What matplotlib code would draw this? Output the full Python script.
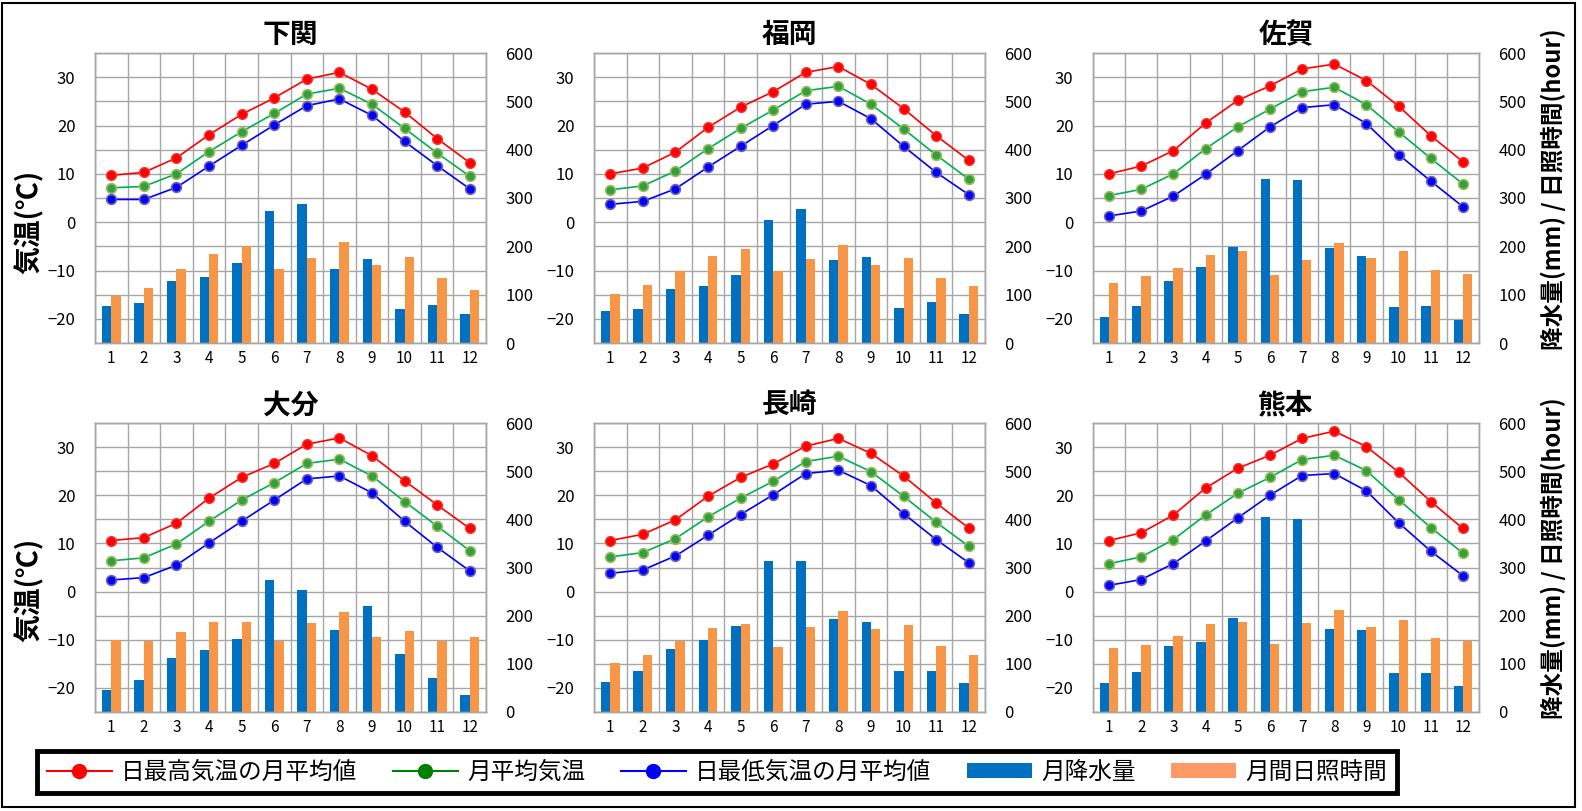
import matplotlib
matplotlib.use("Agg")
import matplotlib.pyplot as plt
from matplotlib.lines import Line2D
from matplotlib.patches import Patch, Rectangle
import numpy as np

plt.rcParams['font.family'] = ['Noto Sans CJK JP', 'DejaVu Sans']

months = list(range(1, 13))
stations = ["下関", "福岡", "佐賀", "大分", "長崎", "熊本"]

# 日最高気温の月平均値 (℃)
tmax = [
    [9.7, 10.3, 13.3, 18.1, 22.3, 25.7, 29.6, 31.0, 27.5, 22.8, 17.3, 12.3],
    [10.0, 11.2, 14.5, 19.6, 23.8, 27.0, 31.0, 32.2, 28.5, 23.5, 17.9, 12.8],
    [10.0, 11.6, 14.8, 20.5, 25.2, 28.2, 31.7, 32.7, 29.3, 24.0, 17.9, 12.5],
    [10.6, 11.2, 14.2, 19.4, 23.7, 26.6, 30.6, 31.9, 28.2, 23.0, 18.0, 13.1],
    [10.6, 11.9, 14.9, 19.8, 23.7, 26.5, 30.2, 31.8, 28.7, 24.0, 18.4, 13.2],
    [10.6, 12.2, 15.9, 21.5, 25.6, 28.3, 31.8, 33.3, 30.1, 24.8, 18.7, 13.1],
]
# 月平均気温 (℃)
tmean = [
    [7.1, 7.4, 10.0, 14.6, 18.7, 22.5, 26.5, 27.7, 24.4, 19.4, 14.3, 9.5],
    [6.7, 7.5, 10.6, 15.2, 19.4, 23.2, 27.2, 28.1, 24.4, 19.3, 13.9, 8.9],
    [5.5, 6.8, 10.0, 15.2, 19.7, 23.4, 27.0, 27.9, 24.3, 18.7, 13.2, 7.9],
    [6.4, 7.0, 9.9, 14.6, 19.0, 22.6, 26.6, 27.5, 24.0, 18.7, 13.6, 8.5],
    [7.2, 8.1, 11.0, 15.5, 19.4, 22.9, 27.0, 28.1, 24.9, 19.8, 14.4, 9.4],
    [5.8, 7.2, 10.8, 15.9, 20.4, 23.7, 27.4, 28.3, 25.1, 19.1, 13.3, 8.0],
]
# 日最低気温の月平均値 (℃)
tmin = [
    [4.7, 4.7, 7.2, 11.6, 15.9, 20.1, 24.1, 25.5, 22.1, 16.7, 11.7, 6.9],
    [3.7, 4.3, 6.9, 11.4, 15.7, 20.0, 24.4, 25.0, 21.4, 15.7, 10.3, 5.7],
    [1.3, 2.3, 5.4, 9.9, 14.8, 19.7, 23.7, 24.3, 20.4, 14.0, 8.5, 3.2],
    [2.4, 2.9, 5.5, 10.1, 14.6, 19.0, 23.4, 24.0, 20.5, 14.6, 9.2, 4.3],
    [3.8, 4.5, 7.4, 11.7, 16.0, 20.1, 24.5, 25.2, 22.0, 16.2, 10.8, 6.0],
    [1.3, 2.5, 5.8, 10.5, 15.3, 20.0, 24.1, 24.5, 20.9, 14.3, 8.4, 3.3],
]
# 月降水量 (mm)
precip = [
    [76, 82, 129, 136, 166, 274, 287, 153, 173, 71, 79, 60],
    [66, 71, 112, 117, 141, 254, 277, 171, 178, 73, 84, 59],
    [54, 77, 128, 157, 199, 339, 338, 197, 180, 75, 76, 47],
    [46, 66, 112, 129, 151, 275, 253, 171, 220, 121, 70, 35],
    [62, 85, 130, 150, 178, 314, 314, 194, 187, 85, 85, 60],
    [60, 83, 138, 145, 195, 405, 401, 173, 170, 81, 81, 53],
]
# 月間日照時間 (hour)
sunshine = [
    [97, 114, 154, 185, 200, 154, 175, 209, 162, 178, 134, 109],
    [102, 120, 150, 180, 195, 150, 173, 202, 162, 176, 135, 117],
    [124, 138, 156, 182, 191, 140, 171, 207, 176, 191, 151, 142],
    [150, 148, 166, 186, 187, 147, 184, 207, 155, 168, 148, 156],
    [102, 119, 147, 174, 183, 135, 177, 210, 172, 180, 137, 118],
    [133, 139, 158, 182, 187, 142, 185, 211, 177, 191, 153, 147],
]

W, H = 1582, 811
fig = plt.figure(figsize=(W / 100, H / 100), dpi=100)

# panel boxes in pixels: left, top, right, bottom
boxes = [
    (95, 53, 486, 343), (594, 53, 985, 343), (1093, 53, 1479, 343),
    (95, 423, 486, 712), (594, 423, 985, 712), (1093, 423, 1479, 712),
]

grid_c = '#A6A6A6'
bar_w = 0.29
x = np.array(months)

for k, name in enumerate(stations):
    l, t, r, b = boxes[k]
    ax = fig.add_axes([l / W, 1 - b / H, (r - l) / W, (b - t) / H])
    axb = ax.twinx()
    ax.set_zorder(axb.get_zorder() + 1)
    ax.patch.set_visible(False)

    # bars on the right scale
    axb.bar(x - bar_w / 2, precip[k], width=bar_w, color='#0070C0', zorder=2)
    axb.bar(x + bar_w / 2, sunshine[k], width=bar_w, color='#F79646', zorder=2)
    axb.set_ylim(0, 600)
    axb.set_yticks(range(0, 601, 100))
    axb.set_yticks(range(0, 601, 50), minor=True)
    axb.set_axisbelow(True)
    axb.grid(True, which='both', axis='y', color=grid_c, lw=1.0)
    axb.tick_params(axis='y', which='both', length=0, pad=14, labelsize=12)

    # month separators (between bar groups, so they never cross the bars)
    ax.set_xticks(np.arange(0.5, 12.6, 1), minor=True)
    ax.grid(True, which='minor', axis='x', color=grid_c, lw=1.0)
    ax.tick_params(axis='x', which='minor', length=0)

    # temperature lines
    ax.plot(x, tmax[k], color='#FF0000', lw=1.2, marker='o', ms=7,
            mfc='#FF0000', mec='#FF3030')
    ax.plot(x, tmean[k], color='#00B050', lw=1.2, marker='o', ms=7,
            mfc='#30A040', mec='#9BBB59', mew=1.2)
    ax.plot(x, tmin[k], color='#0000FF', lw=1.2, marker='o', ms=7,
            mfc='#0000FF', mec='#7060B0', mew=1.2)
    ax.set_ylim(-25, 35)
    ax.set_yticks(range(-20, 31, 10))
    ax.set_xlim(0.5, 12.5)
    ax.set_xticks(months)
    ax.tick_params(axis='y', length=0, pad=14, labelsize=12)
    ax.tick_params(axis='x', which='major', length=0, pad=5, labelsize=11)

    for a in (ax, axb):
        for sp in a.spines.values():
            sp.set_color(grid_c)
            sp.set_linewidth(1.0)

    ax.set_title(name, fontsize=20, fontweight='bold', pad=7)

# axis titles
for yc in (222, 590):
    fig.text(29 / W, 1 - yc / H, "気温(℃)", rotation=90, ha='center', va='center',
             fontsize=20, fontweight='bold')
for yc in (189, 558):
    fig.text(1553 / W, 1 - yc / H, "降水量(mm) / 日照時間(hour)", rotation=90,
             ha='center', va='center', fontsize=17, fontweight='bold')

# legend
handles = [
    Line2D([], [], color='#FF0000', lw=1.5, marker='o', ms=10, mfc='#FF0000', mec='#FF0000'),
    Line2D([], [], color='#008000', lw=1.5, marker='o', ms=10, mfc='#008000', mec='#008000'),
    Line2D([], [], color='#0000FF', lw=1.5, marker='o', ms=10, mfc='#0000FF', mec='#0000FF'),
    Patch(facecolor='#0070C0', edgecolor='none'),
    Patch(facecolor='#FF9966', edgecolor='none'),
]
labels = ["日最高気温の月平均値", "月平均気温", "日最低気温の月平均値", "月降水量", "月間日照時間"]
leg = fig.legend(handles, labels, loc='center', bbox_to_anchor=(717 / W, 1 - 772 / H),
                 ncol=5, fontsize=17, frameon=True, fancybox=False, framealpha=1,
                 handlelength=2.75, handletextpad=0.4, columnspacing=1.5,
                 borderpad=0.4, handleheight=0.6)
leg.get_frame().set_edgecolor('black')
leg.get_frame().set_linewidth(3.5)

# outer frame
fig.patches.append(Rectangle((2 / W, 1 - 807 / H), 1573 / W, 804 / H, transform=fig.transFigure,
                             fill=False, edgecolor='black', lw=1.5))

fig.savefig("out.png", dpi=100)
